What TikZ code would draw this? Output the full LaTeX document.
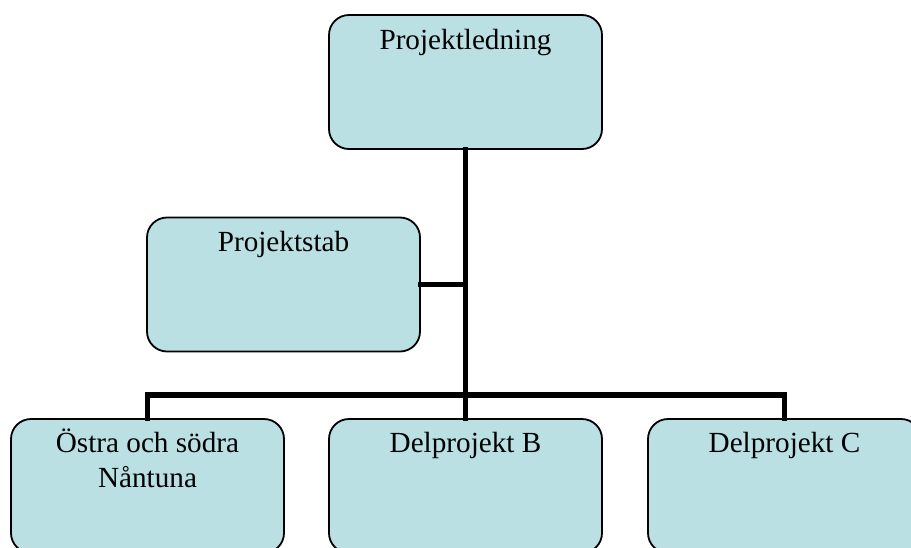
\documentclass[tikz,border=0pt]{standalone}
\usepackage{fontspec}
\setmainfont{Liberation Serif}
\definecolor{boxfill}{RGB}{187,224,227}
\begin{document}
\begin{tikzpicture}[x=1pt,y=-1pt,
  orgbox/.style={draw=black, line width=1.8pt, fill=boxfill, rounded corners=20pt,
    minimum width=273pt, minimum height=134pt, inner sep=0pt},
  boxtext/.style={font=\fontsize{29.2}{35}\selectfont, align=center, inner sep=0pt, anchor=base},
  conn/.style={line width=5.8pt, line join=miter, line cap=rect}]
\useasboundingbox (0,0) rectangle (911,547);
\clip (0,0) rectangle (911,547);
\coordinate (bus) at (465.5,395);
\node[orgbox] (pl) at (465.5,82) {};
\node[orgbox] (ps) at (283.5,284.5) {};
\node[orgbox] (a) at (147.5,486) {};
\node[orgbox] (b) at (465.5,486) {};
\node[orgbox] (c) at (784.5,486) {};
\draw[conn] (pl.south) -- (b.north);
\draw[conn] (ps.east) -- (ps.east -| pl.south);
\draw[conn] (a.north) -- (a.north |- bus) -- (c.north |- bus) -- (c.north);
\node[boxtext] (tpl) at ([yshift=-35pt]pl.north) {Projektledning};
\node[boxtext] (tps) at ([yshift=-35pt]ps.north) {Projektstab};
\node[boxtext] (ta) at ([yshift=-69pt]a.north) {Östra och södra\\Nåntuna};
\node[boxtext] (tb) at ([yshift=-34pt]b.north) {Delprojekt B};
\node[boxtext] (tc) at ([yshift=-34pt]c.north) {Delprojekt C};
\end{tikzpicture}
\end{document}
